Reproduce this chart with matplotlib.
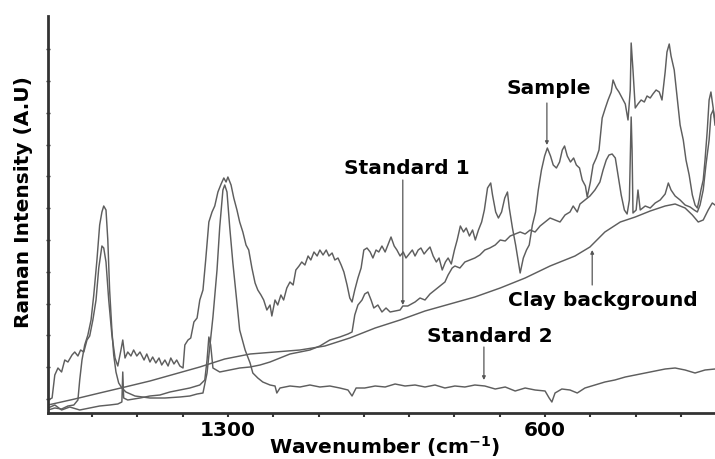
import numpy as np
import matplotlib
matplotlib.use("Agg")
import matplotlib.pyplot as plt
from matplotlib.ticker import FixedLocator

# Raman spectra, wavenumber (cm-1) vs intensity (arbitrary units)
sample_wn = [1697, 1688, 1682, 1675, 1667, 1660, 1653, 1644, 1638, 1631, 1625, 1618, 1611, 1605,
             1598, 1591, 1585, 1578, 1574, 1569, 1563, 1556, 1549, 1543, 1536, 1532, 1527, 1521,
             1514, 1508, 1501, 1494, 1485, 1479, 1472, 1466, 1459, 1452, 1446, 1439, 1432, 1426,
             1419, 1413, 1406, 1399, 1395, 1388, 1382, 1375, 1368, 1362, 1355, 1349, 1342, 1335,
             1329, 1322, 1315, 1309, 1304, 1300, 1293, 1287, 1280, 1274, 1267, 1260, 1254, 1247,
             1240, 1234, 1227, 1221, 1214, 1207, 1203, 1196, 1190, 1183, 1177, 1170, 1163, 1156,
             1150, 1143, 1137, 1130, 1123, 1117, 1110, 1103, 1097, 1090, 1083, 1077, 1070, 1064,
             1057, 1050, 1044, 1037, 1031, 1026, 1020, 1013, 1006, 1000, 993, 986, 980, 973, 967,
             960, 953, 947, 940, 933, 927, 920, 913, 907, 900, 893, 887, 880, 874, 867, 860, 854,
             847, 840, 834, 827, 820, 814, 807, 800, 794, 787, 780, 774, 767, 760, 754, 747, 740,
             734, 727, 720, 716, 709, 703, 696, 689, 683, 679, 672, 665, 659, 655, 648, 641, 635,
             628, 621, 615, 608, 601, 595, 588, 582, 575, 568, 562, 557, 551, 544, 537, 531, 524,
             518, 511, 507, 500, 494, 487, 481, 474, 467, 461, 454, 450, 443, 437, 430, 423, 417,
             412, 410, 406, 401, 395, 388, 381, 375, 368, 362, 355, 348, 342, 335, 331, 326, 322,
             315, 308, 302, 295, 289, 282, 275, 269, 264, 260, 256, 251, 247, 242, 238, 234, 229,
             225]
sample_int = [13, 15, 38, 45, 41, 53, 51, 58, 61, 57, 63, 61, 73, 77,
              93, 113, 145, 167, 165, 151, 113, 78, 55, 47, 63, 73, 55, 61,
              57, 63, 57, 61, 53, 59, 51, 56, 50, 55, 48, 53, 47, 55,
              49, 53, 47, 45, 68, 73, 75, 91, 95, 113, 123, 153, 191, 201,
              207, 221, 229, 235, 231, 236, 228, 215, 203, 191, 181, 168, 163, 145,
              130, 123, 118, 113, 103, 108, 97, 113, 108, 118, 113, 125, 131, 128,
              143, 147, 151, 148, 157, 153, 161, 157, 163, 158, 163, 157, 160, 153,
              155, 148, 141, 128, 115, 111, 123, 135, 145, 163, 165, 161, 155, 163, 161,
              167, 161, 168, 176, 167, 163, 157, 161, 155, 159, 163, 157, 163, 165, 159, 163, 166,
              157, 151, 155, 143, 151, 155, 149, 163, 173, 187, 181, 185, 177, 183, 173, 183, 191,
              203, 225, 230, 218, 201, 195, 201, 215, 221, 205, 185, 168, 151, 140, 155, 163, 168,
              188, 201, 223, 243, 257, 265, 257, 248, 245, 251, 263, 267, 257, 251, 255, 248, 245,
              233, 227, 216, 231, 248, 255, 263, 295, 305, 313, 321, 333, 325, 321, 315, 309, 293,
              323, 370, 343, 305, 309, 313, 311, 317, 315, 319, 323, 321, 313, 341, 361, 369, 357,
              343, 313, 288, 273, 253, 238, 218, 208, 205, 213, 223, 233, 253, 283, 313, 321, 305,
              288]

std1_wn = [1697, 1682, 1667, 1649, 1627, 1605, 1583, 1561, 1543, 1534, 1532, 1530, 1521, 1494,
           1472, 1450, 1428, 1406, 1384, 1362, 1351, 1346, 1342, 1338, 1333, 1318, 1296, 1274,
           1251, 1229, 1207, 1185, 1163, 1141, 1119, 1097, 1075, 1053, 1035, 1026, 1020, 1013,
           1004, 998, 991, 984, 978, 969, 960, 951, 942, 931, 920, 914, 903, 887, 876, 865, 854,
           843, 832, 821, 814, 805, 799, 788, 777, 766, 755, 744, 733, 722, 710, 699, 688, 677,
           666, 655, 644, 633, 622, 611, 600, 589, 578, 567, 556, 545, 538, 529, 523, 512, 501,
           490, 479, 472, 465, 459, 452, 445, 439, 432, 425, 419, 414, 410, 408, 406, 399, 395,
           390, 379, 368, 357, 346, 335, 328, 322, 313, 302, 291, 280, 271, 264, 258, 251, 245,
           238, 234, 229, 225]
std1_int = [5, 8, 3, 6, 3, 5, 7, 8, 9, 11, 41, 15, 13, 15,
            17, 18, 21, 23, 25, 28, 33, 53, 76, 68, 45, 41, 43, 45,
            46, 48, 51, 55, 59, 61, 63, 67, 73, 76, 79, 81, 98, 108,
            113, 119, 121, 113, 105, 108, 101, 105, 101, 102, 103, 107, 107, 111, 115, 113, 119,
            123, 127, 131, 138, 145, 147, 145, 151, 153, 155, 158, 163, 165, 168, 173, 172, 177,
            179, 181, 179, 183, 181, 187, 191, 195, 193, 191, 198, 201, 207, 201, 209, 213, 217,
            223, 231, 243, 253, 258, 259, 255, 238, 218, 203, 199, 213, 296, 263, 200, 203, 223,
            203, 207, 205, 210, 213, 219, 230, 223, 217, 213, 208, 206, 203, 201, 208, 223, 248,
            273, 298, 303, 293]

std2_wn = [1697, 1682, 1667, 1653, 1640, 1631, 1627, 1622, 1616, 1609, 1602, 1596, 1589, 1583,
           1578, 1574, 1569, 1565, 1561, 1556, 1552, 1547, 1541, 1534, 1525, 1505, 1472, 1439,
           1406, 1384, 1368, 1355, 1346, 1340, 1333, 1324, 1318, 1311, 1307, 1302, 1296, 1289,
           1280, 1274, 1262, 1251, 1245, 1234, 1223, 1207, 1196, 1192, 1185, 1163, 1141, 1119,
           1097, 1075, 1053, 1035, 1026, 1017, 998, 975, 953, 931, 909, 887, 865, 843, 821, 799,
           777, 755, 733, 710, 688, 666, 644, 622, 600, 591, 585, 578, 563, 545, 529, 512, 490,
           468, 446, 423, 401, 379, 357, 335, 313, 291, 269, 247, 225]
std2_int = [3, 5, 4, 7, 8, 13, 33, 53, 68, 78, 93, 118, 153, 188,
            201, 207, 203, 173, 123, 83, 58, 41, 30, 25, 21, 17, 15, 15,
            16, 17, 19, 20, 40, 66, 96, 143, 186, 223, 228, 221, 186, 150,
            110, 83, 63, 50, 40, 35, 31, 28, 27, 20, 25, 27, 26, 28,
            26, 27, 25, 23, 17, 25, 25, 27, 26, 29, 27, 28, 26, 28, 25, 27,
            26, 28, 27, 24, 26, 22, 25, 23, 22, 15, 11, 20, 24, 23, 20, 25, 28,
            31, 33, 36, 38, 40, 42, 44, 45, 43, 40, 43, 44]

clay_wn = [1697, 1638, 1583, 1527, 1472, 1417, 1362, 1307, 1251, 1196, 1141, 1086, 1031, 975,
           920, 865, 810, 755, 699, 644, 589, 534, 501, 468, 434, 401, 368, 335, 313, 291, 275,
           262, 251, 240, 231, 225]
clay_int = [8, 14, 20, 26, 32, 39, 46, 54, 59, 61, 63, 67, 75, 85,
            93, 102, 109, 116, 125, 135, 147, 157, 166, 181, 191, 196, 202, 207, 209, 205, 198,
            191, 193, 203, 210, 208]

# ticks along the wavenumber axis, only two of them labelled
x_major = [1600, 1500, 1400, 1300, 1200, 1100, 1000, 900, 800, 700, 600, 500, 400, 300]
x_labelled = [1300, 600]

plt.rcParams["font.family"] = "DejaVu Sans"
plt.rcParams["font.weight"] = "bold"

fig = plt.figure(figsize=(7.15, 4.59), dpi=100)
ax = fig.add_axes([48 / 715, 46 / 459, 667 / 715, 397 / 459])

line_kw = dict(color="#5e5e5e", lw=1.05)
ax.plot(clay_wn, clay_int, **line_kw)
ax.plot(std2_wn, std2_int, **line_kw)
ax.plot(std1_wn, std1_int, **line_kw)
ax.plot(sample_wn, sample_int, **line_kw)

ax.set_xlim(1697, 225)
ax.set_ylim(0, 397)

for side in ("top", "right"):
    ax.spines[side].set_visible(False)
for side in ("left", "bottom"):
    ax.spines[side].set_linewidth(2)
    ax.spines[side].set_color("#333333")

ax.xaxis.set_major_locator(FixedLocator(x_major))
ax.set_xticklabels([str(v) if v in x_labelled else "" for v in x_major])
ax.tick_params(axis="x", direction="out", length=3, width=1.5, pad=3,
               labelsize=14.5, colors="#333333", labelcolor="black")
ax.yaxis.set_major_locator(FixedLocator(np.arange(14, 390, 31.8)))
ax.set_yticklabels([])
ax.tick_params(axis="y", direction="inout", length=3, width=1, colors="#333333")

ax.set_xlabel("Wavenumber (cm$^{\\mathbf{-1}}$)", fontsize=14.5, fontweight="bold")
ax.xaxis.set_label_coords(337 / 667, -21 / 397)
ax.set_ylabel("Raman Intensity (A.U)", fontsize=14.5, fontweight="bold")
ax.yaxis.set_label_coords(-15 / 667, 211 / 397)

arrow_kw = dict(arrowstyle="-|>", color="#555555", lw=0.9, mutation_scale=5,
                shrinkA=0, shrinkB=0)
txt_kw = dict(fontsize=14.5, fontweight="bold", ha="center", va="center")

ax.text(593, 325, "Sample", **txt_kw)
ax.annotate("", xy=(596, 268), xytext=(596, 310), arrowprops=arrow_kw)

ax.text(905, 245, "Standard 1", **txt_kw)
ax.annotate("", xy=(914, 108), xytext=(914, 233), arrowprops=arrow_kw)

ax.text(472, 113, "Clay background", **txt_kw)
ax.annotate("", xy=(496, 163), xytext=(496, 128), arrowprops=arrow_kw)

ax.text(721, 76, "Standard 2", **txt_kw)
ax.annotate("", xy=(735, 33), xytext=(735, 66), arrowprops=arrow_kw)

fig.savefig("out.png", dpi=100)
